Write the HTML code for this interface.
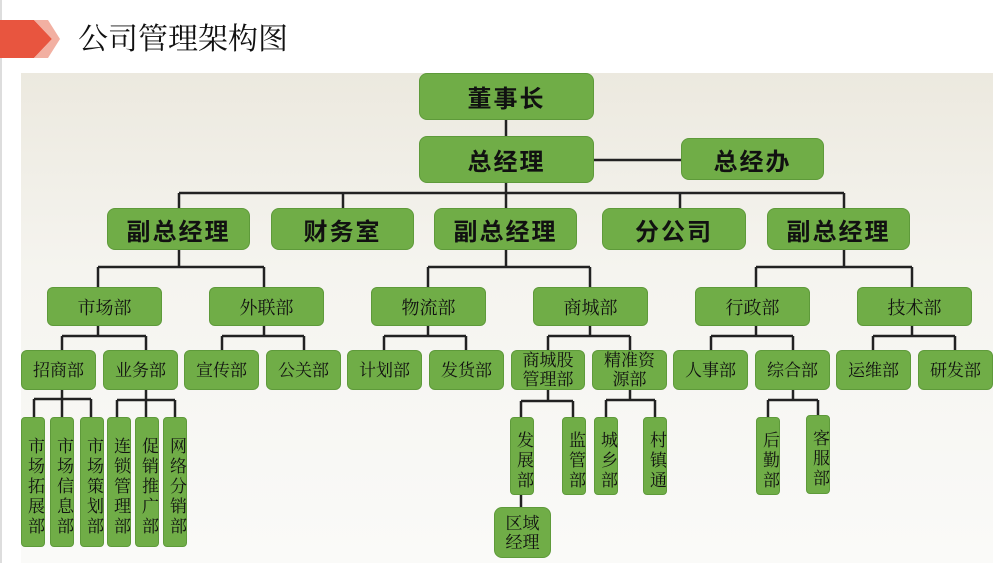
<!DOCTYPE html>
<html><head><meta charset="utf-8"><style>
body{margin:0;width:1005px;height:563px;overflow:hidden;background:#fff;position:relative;font-family:"Liberation Serif","Noto Serif CJK SC",serif;}
.panel{position:absolute;left:21px;top:73px;width:972px;height:490px;background:linear-gradient(#ece9df,#f5f4ef 40%,#fafaf8);}
.b{position:absolute;background:#70ad47;border:1px solid #5e9a3a;border-radius:6px;box-sizing:border-box;display:flex;align-items:center;justify-content:center;color:#111;text-align:center;}
.l1{font-family:"Liberation Sans","Noto Sans CJK SC",sans-serif;font-weight:bold;font-size:24px;letter-spacing:2px;border-radius:8px;}
.l3{font-size:18px;}
.l4{font-size:17px;line-height:19px;}
.v{font-size:17px;line-height:19px;writing-mode:vertical-rl;letter-spacing:3px;border-radius:4px;align-items:flex-start;padding-top:9px;}
svg{position:absolute;left:0;top:0;}
</style></head><body>
<div style="position:absolute;left:0;top:0;width:2px;height:563px;background:#ddd"></div>
<svg width="1005" height="563">
<polygon points="0,20 34,20 52,39 34,58 0,58" fill="#e8553f"/>
<polygon points="34,20 48,20 60,39 48,58 34,58 52,39" fill="#f2b0a2"/>
</svg>
<div style="position:absolute;left:78px;top:20px;font-size:30px;line-height:40px;font-family:'Liberation Serif','Noto Serif CJK SC',serif;color:#111">公司管理架构图</div>
<div class="panel"></div>
<svg width="1005" height="563" stroke="#222" stroke-width="2.5" fill="none">
<path d="M506 120V136M594 160H681M506 183V193M179 193H844M179 193V208M343 193V208M506 193V208M680 193V208M844 193V208"/>
<path d="M179 250V267M98 267H264M98 267V287M264 267V287"/>
<path d="M506 250V267M428 267H590M428 267V287M590 267V287"/>
<path d="M844 250V267M756 267H912M756 267V287M912 267V287"/>
<path d="M98 326V336M62 336H146M62 336V350M146 336V350"/>
<path d="M264 326V336M222 336H304M222 336V350M304 336V350"/>
<path d="M428 326V336M384 336H466M384 336V350M466 336V350"/>
<path d="M590 326V336M548 336H630M548 336V350M630 336V350"/>
<path d="M756 326V336M711 336H793M711 336V350M793 336V350"/>
<path d="M912 326V336M873 336H955M873 336V350M955 336V350"/>
<path d="M62 390V399M34 399H91M34 399V417M62 399V417M91 399V417"/>
<path d="M146 390V400M117 400H175M117 400V417M146 400V417M175 400V417"/>
<path d="M548 390V401M521 401H573M521 401V417M573 401V417M521 495V507"/>
<path d="M630 390V400M606 400H655M606 400V417M655 400V417"/>
<path d="M793 390V400M768 400H818M768 400V417M818 400V415"/>
</svg>
<div class="b l1" style="left:419px;top:73px;width:175px;height:47px">董事长</div>
<div class="b l1" style="left:419px;top:136px;width:175px;height:47px">总经理</div>
<div class="b l1" style="left:681px;top:138px;width:143px;height:42px">总经办</div>
<div class="b l1" style="left:107px;top:208px;width:143px;height:42px">副总经理</div>
<div class="b l1" style="left:271px;top:208px;width:143px;height:42px">财务室</div>
<div class="b l1" style="left:434px;top:208px;width:143px;height:42px">副总经理</div>
<div class="b l1" style="left:602px;top:208px;width:144px;height:42px">分公司</div>
<div class="b l1" style="left:767px;top:208px;width:143px;height:42px">副总经理</div>
<div class="b l3" style="left:47px;top:287px;width:115px;height:39px">市场部</div>
<div class="b l3" style="left:209px;top:287px;width:115px;height:39px">外联部</div>
<div class="b l3" style="left:371px;top:287px;width:115px;height:39px">物流部</div>
<div class="b l3" style="left:533px;top:287px;width:115px;height:39px">商城部</div>
<div class="b l3" style="left:695px;top:287px;width:115px;height:39px">行政部</div>
<div class="b l3" style="left:857px;top:287px;width:115px;height:39px">技术部</div>
<div class="b l4" style="left:21px;top:350px;width:75px;height:40px">招商部</div>
<div class="b l4" style="left:103px;top:350px;width:75px;height:40px">业务部</div>
<div class="b l4" style="left:184px;top:350px;width:75px;height:40px">宣传部</div>
<div class="b l4" style="left:266px;top:350px;width:75px;height:40px">公关部</div>
<div class="b l4" style="left:347px;top:350px;width:75px;height:40px">计划部</div>
<div class="b l4" style="left:429px;top:350px;width:75px;height:40px">发货部</div>
<div class="b l4" style="left:511px;top:350px;width:74px;height:40px">商城股<br>管理部</div>
<div class="b l4" style="left:592px;top:350px;width:75px;height:40px">精准资<br>源部</div>
<div class="b l4" style="left:673px;top:350px;width:75px;height:40px">人事部</div>
<div class="b l4" style="left:755px;top:350px;width:75px;height:40px">综合部</div>
<div class="b l4" style="left:836px;top:350px;width:75px;height:40px">运维部</div>
<div class="b l4" style="left:918px;top:350px;width:75px;height:40px">研发部</div>
<div class="b v" style="left:21px;top:417px;width:24px;height:130px">市场拓展部</div>
<div class="b v" style="left:50px;top:417px;width:24px;height:130px">市场信息部</div>
<div class="b v" style="left:80px;top:417px;width:24px;height:130px">市场策划部</div>
<div class="b v" style="left:107px;top:417px;width:24px;height:130px">连锁管理部</div>
<div class="b v" style="left:135px;top:417px;width:24px;height:130px">促销推广部</div>
<div class="b v" style="left:163px;top:417px;width:24px;height:130px">网络分销部</div>
<div class="b v" style="left:510px;top:417px;width:24px;height:78px">发展部</div>
<div class="b v" style="left:562px;top:417px;width:24px;height:78px">监管部</div>
<div class="b v" style="left:594px;top:417px;width:24px;height:78px">城乡部</div>
<div class="b v" style="left:643px;top:417px;width:24px;height:78px">村镇通</div>
<div class="b v" style="left:756px;top:417px;width:24px;height:78px">后勤部</div>
<div class="b v" style="left:806px;top:415px;width:24px;height:79px">客服部</div>
<div class="b l4" style="left:494px;top:507px;width:57px;height:51px;border-radius:8px">区域<br>经理</div>
</body></html>
